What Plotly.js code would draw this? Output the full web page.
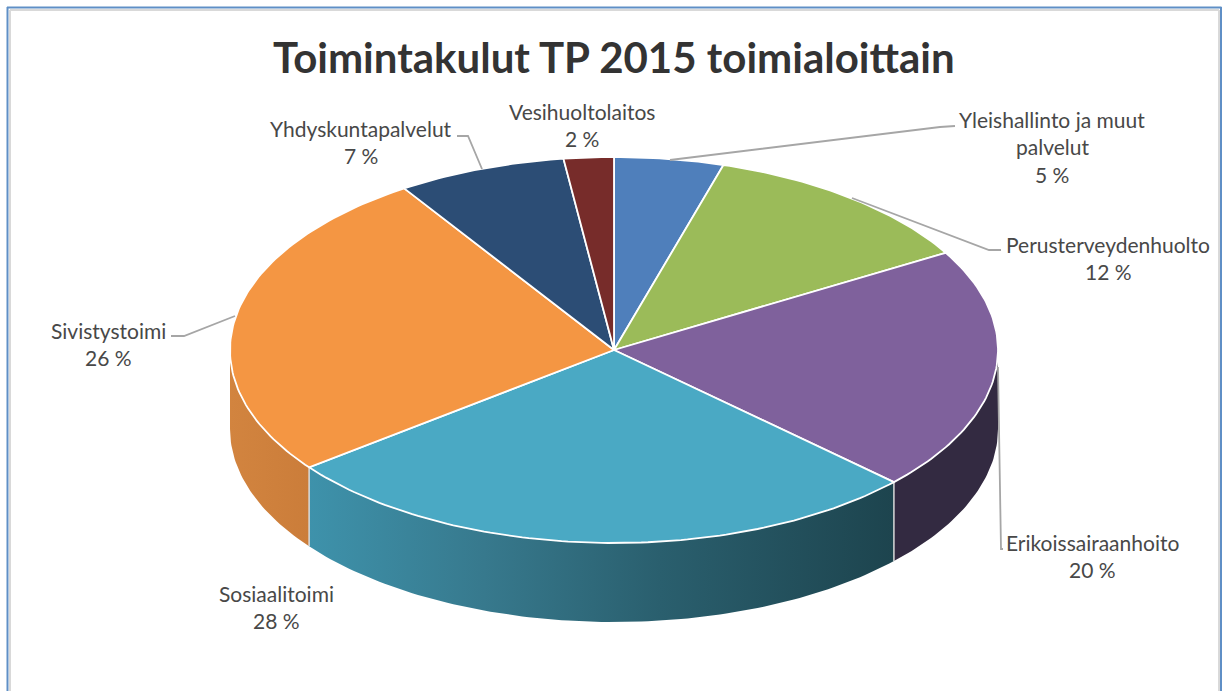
<!DOCTYPE html>
<html><head><meta charset="utf-8">
<script src="https://cdn.plot.ly/plotly-3.0.1.min.js"></script>
<style>html,body{margin:0;padding:0;background:#fff}#c{width:1226px;height:691px}</style>
</head><body><div id="c"></div>
<script>
var titleText = "Toimintakulut TP 2015 toimialoittain";
var categories = ["Yleishallinto ja muut palvelut","Perusterveydenhuolto","Erikoissairaanhoito","Sosiaalitoimi","Sivistystoimi","Yhdyskuntapalvelut","Vesihuoltolaitos"];
var labelLines = [["Yleishallinto ja muut","palvelut"],["Perusterveydenhuolto"],["Erikoissairaanhoito"],["Sosiaalitoimi"],["Sivistystoimi"],["Yhdyskuntapalvelut"],["Vesihuoltolaitos"]];
var values = [4.6,12.0,20.4,27.6,26.2,7.1,2.1];
var topColors = ["#4F7FBB","#9BBB59","#7F619C","#4AA9C4","#F49643","#2C4D75","#772C2A"];
var sideScales = [
  null,null,
  [[0,"#332A41"],[1,"#332A41"]],
  [[0,"#3E92AB"],[0.3,"#37798D"],[0.6,"#2A5F6E"],[1,"#1D444E"]],
  [[0,"#D2843F"],[1,"#CB7D3A"]],
  null,null
];
var labelX = [1052,1108,1092,276,108,361,582];
var labelY = [119,244,542,593,330,128,111];
var leaders = [
  [[670,160],[940,127],[955,126]],
  [[852,198],[989,250],[1001,250]],
  [[998,367],[1001,549],[1003,549]],
  [[171,336],[184,336],[235,316]],
  [[457,136],[468,136],[482,169]]
];
var cx=614, cy=350, rx=384, ry=193, depth=79, lineStep=27.5;

function pt(deg,dy){var r=deg*Math.PI/180;return [cx+rx*Math.sin(r), cy-ry*Math.cos(r)+(dy||0)];}
function arc(a,b,dy){var out=[],n=Math.max(2,Math.ceil(Math.abs(b-a)));for(var i=0;i<=n;i++){out.push(pt(a+(b-a)*i/n,dy));}return out;}

var total=values.reduce(function(s,v){return s+v;},0);
var traces=[], cum=0, spans=[];
values.forEach(function(v){var a=cum/total*360;cum+=v;spans.push([a,cum/total*360]);});

spans.forEach(function(s,i){
  var a=Math.max(s[0],90), b=Math.min(s[1],270);
  if(b<=a||!sideScales[i])return;
  var pts=arc(a,b,0).concat(arc(b,a,depth));pts.push(pts[0]);
  traces.push({type:"scatter",mode:"lines",x:pts.map(function(p){return p[0];}),y:pts.map(function(p){return p[1];}),
    fill:"toself",fillgradient:{type:"horizontal",colorscale:sideScales[i]},
    line:{color:"rgba(0,0,0,0)",width:0},hoverinfo:"skip",showlegend:false});
});
[spans[2][1],spans[3][1]].forEach(function(a){
  var p=[pt(a,0),pt(a,depth)];
  traces.push({type:"scatter",mode:"lines",x:p.map(function(q){return q[0];}),y:p.map(function(q){return q[1];}),
    line:{color:"#D9D9D9",width:1.5},hoverinfo:"skip",showlegend:false});
});
spans.forEach(function(s,i){
  var pts=[[cx,cy]].concat(arc(s[0],s[1],0));pts.push([cx,cy]);
  traces.push({type:"scatter",mode:"lines",name:categories[i],x:pts.map(function(p){return p[0];}),y:pts.map(function(p){return p[1];}),
    fill:"toself",fillcolor:topColors[i],line:{color:"#FFFFFF",width:1.8},
    text:categories[i]+": "+Math.round(values[i])+" %",hoverinfo:"text",showlegend:false});
});
leaders.forEach(function(l){
  traces.push({type:"scatter",mode:"lines",x:l.map(function(p){return p[0];}),y:l.map(function(p){return p[1];}),
    line:{color:"#A6A6A6",width:1.8},hoverinfo:"skip",showlegend:false});
});

var annotations=[];
categories.forEach(function(c,i){
  labelLines[i].concat([Math.round(values[i])+" %"]).forEach(function(t,j){
    annotations.push({xref:"x",yref:"y",x:labelX[i],y:labelY[i]+j*lineStep,text:t,showarrow:false,
      xanchor:"center",yanchor:"middle",font:{family:"Lato, Carlito, sans-serif",size:21,color:"#484848"}});
  });
});
annotations.push({xref:"x",yref:"y",x:614,y:57,text:"<b>"+titleText+"</b>",showarrow:false,xanchor:"center",yanchor:"middle",
  font:{family:"Lato, Carlito, sans-serif",size:42,color:"#333333"}});

var frame=[
  {type:"line",xref:"x",yref:"y",x0:10,x1:1219,y0:10,y1:10,line:{color:"#D9D9D9",width:2}},
  {type:"line",xref:"x",yref:"y",x0:10,x1:10,y0:10,y1:691,line:{color:"#D9D9D9",width:2}},
  {type:"line",xref:"x",yref:"y",x0:1219,x1:1219,y0:10,y1:691,line:{color:"#D9D9D9",width:2}},
  {type:"line",xref:"x",yref:"y",x0:7,x1:1221.5,y0:7.5,y1:7.5,line:{color:"#5F8FC6",width:2}},
  {type:"line",xref:"x",yref:"y",x0:7.5,x1:7.5,y0:7,y1:691,line:{color:"#5F8FC6",width:2}},
  {type:"line",xref:"x",yref:"y",x0:1221,x1:1221,y0:7,y1:691,line:{color:"#5F8FC6",width:2}}
];

var layout={width:1226,height:691,margin:{l:0,r:0,t:0,b:0},paper_bgcolor:"#fff",plot_bgcolor:"#fff",showlegend:false,
  xaxis:{range:[0,1226],visible:false,fixedrange:true},
  yaxis:{range:[691,0],visible:false,fixedrange:true},
  shapes:frame,annotations:annotations};
Plotly.newPlot("c",traces,layout,{displayModeBar:false});
</script></body></html>
